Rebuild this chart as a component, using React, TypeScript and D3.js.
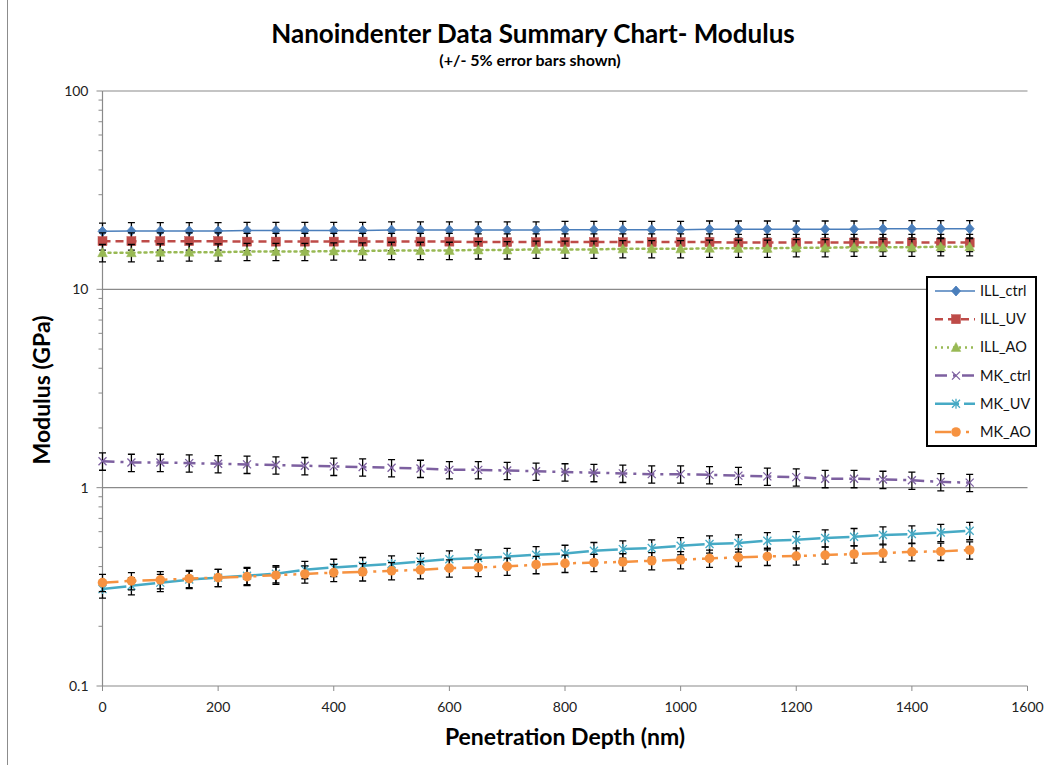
import React from "react";
import * as d3 from "d3";

const depth = [0, 50, 100, 150, 200, 250, 300, 350, 400, 450, 500, 550, 600, 650, 700, 750, 800, 850, 900, 950, 1000, 1050, 1100, 1150, 1200, 1250, 1300, 1350, 1400, 1450, 1500];

const illCtrl = [19.6, 19.7, 19.7, 19.7, 19.7, 19.8, 19.8, 19.8, 19.8, 19.8, 19.9, 19.9, 19.9, 19.9, 19.9, 19.9, 20.0, 20.0, 20.0, 20.0, 20.0, 20.1, 20.1, 20.1, 20.1, 20.1, 20.1, 20.2, 20.2, 20.2, 20.2];
const illUV = [17.5, 17.5, 17.5, 17.5, 17.5, 17.4, 17.4, 17.4, 17.4, 17.4, 17.4, 17.4, 17.4, 17.3, 17.3, 17.3, 17.3, 17.3, 17.3, 17.3, 17.3, 17.3, 17.2, 17.2, 17.2, 17.2, 17.2, 17.2, 17.2, 17.2, 17.2];
const illAO = [15.3, 15.3, 15.4, 15.4, 15.4, 15.5, 15.5, 15.5, 15.6, 15.6, 15.7, 15.7, 15.7, 15.8, 15.8, 15.9, 15.9, 15.9, 16.0, 16.0, 16.0, 16.1, 16.1, 16.1, 16.2, 16.2, 16.3, 16.3, 16.3, 16.4, 16.4];
const mkCtrl = [1.36, 1.34, 1.34, 1.33, 1.32, 1.31, 1.3, 1.29, 1.28, 1.27, 1.26, 1.25, 1.23, 1.23, 1.22, 1.21, 1.2, 1.19, 1.18, 1.17, 1.17, 1.16, 1.15, 1.14, 1.13, 1.11, 1.11, 1.1, 1.09, 1.07, 1.06];
const mkUV = [0.308, 0.32, 0.332, 0.344, 0.352, 0.36, 0.368, 0.386, 0.396, 0.404, 0.412, 0.424, 0.436, 0.442, 0.449, 0.459, 0.466, 0.481, 0.49, 0.496, 0.509, 0.52, 0.526, 0.54, 0.546, 0.557, 0.566, 0.577, 0.584, 0.594, 0.607];
const mkAO = [0.332, 0.339, 0.343, 0.348, 0.352, 0.356, 0.362, 0.367, 0.373, 0.376, 0.381, 0.385, 0.393, 0.396, 0.401, 0.409, 0.415, 0.419, 0.422, 0.428, 0.433, 0.44, 0.445, 0.45, 0.452, 0.457, 0.463, 0.468, 0.475, 0.477, 0.485];

const seriesNames = ["ILL_ctrl", "ILL_UV", "ILL_AO", "MK_ctrl", "MK_UV", "MK_AO"];
const seriesValues = [illCtrl, illUV, illAO, mkCtrl, mkUV, mkAO];
const seriesColors = ["#4A7EBB", "#BE4B48", "#98B954", "#7D60A0", "#46AAC5", "#F69240"];
const seriesDash = ["", "8,5", "2,4", "12,6,3,6", "24,5", "16,6,3,6,3,6"];
const seriesWidth = [1.5, 2.5, 2.5, 2.5, 2.5, 2.5];
const seriesMarker = ["diamond", "square", "triangle", "x", "star", "circle"];

const xTicks = [0, 200, 400, 600, 800, 1000, 1200, 1400, 1600];
const yTicks = [0.1, 1, 10, 100];
const errorFraction = 0.1;

const FONT = "Lato, 'Open Sans', sans-serif";

function Marker({ type, x, y, color }: { type: string; x: number; y: number; color: string }) {
  const s = 4.5;
  if (type === "diamond")
    return <path d={`M${x},${y - s - 0.5}L${x + s},${y}L${x},${y + s + 0.5}L${x - s},${y}Z`} fill={color} stroke={color} strokeWidth={0.8} />;
  if (type === "square") return <rect x={x - 4.5} y={y - 4.5} width={9} height={9} fill={color} stroke={color} strokeWidth={0.5} />;
  if (type === "triangle")
    return <path d={`M${x},${y - 5}L${x + 4.8},${y + 4}L${x - 4.8},${y + 4}Z`} fill={color} stroke={color} strokeWidth={0.5} />;
  if (type === "x")
    return (
      <path d={`M${x - 4},${y - 4}L${x + 4},${y + 4}M${x - 4},${y + 4}L${x + 4},${y - 4}`} stroke={color} strokeWidth={1.3} fill="none" />
    );
  if (type === "star")
    return (
      <path
        d={`M${x - 4},${y - 4}L${x + 4},${y + 4}M${x - 4},${y + 4}L${x + 4},${y - 4}M${x},${y - 5}L${x},${y + 5}`}
        stroke={color}
        strokeWidth={1.3}
        fill="none"
      />
    );
  return <circle cx={x} cy={y} r={4.8} fill={color} />;
}

export default function App() {
  const W = 1049;
  const H = 765;
  const left = 102.5;
  const right = 1027.5;
  const top = 91;
  const bottom = 686;

  const x = d3.scaleLinear().domain([0, 1600]).range([left, right]);
  const y = d3.scaleLog().domain([0.1, 100]).range([bottom, top]);

  const minor: number[] = [];
  [0.1, 1, 10].forEach((d) => {
    for (let k = 2; k <= 9; k++) minor.push(d * k);
  });

  const line = d3
    .line<number>()
    .x((_, i) => x(depth[i]))
    .y((v) => y(v));

  const legX = 927;
  const legY = 277;
  const legW = 109;
  const legH = 169;

  return (
    <svg width={W} height={H} style={{ position: "absolute", left: 0, top: 0, background: "#fff" }} fontFamily={FONT}>
      <rect x={0} y={0} width={W} height={H} fill="#fff" />
      <line x1={7.5} x2={7.5} y1={0} y2={H} stroke="#8c8c8c" strokeWidth={1} />

      <text x={533} y={43} textAnchor="middle" fontSize={26} fontWeight="bold" fill="#000">
        Nanoindenter Data Summary Chart- Modulus
      </text>
      <text x={530} y={66} textAnchor="middle" fontSize={16} fontWeight="bold" fill="#000">
        (+/- 5% error bars shown)
      </text>

      {/* gridlines */}
      {yTicks
        .filter((t) => t > 0.1)
        .map((t) => (
          <line key={t} x1={left} x2={right} y1={y(t)} y2={y(t)} stroke="#8a8a8a" strokeWidth={1.2} />
        ))}

      {/* y axis */}
      <line x1={left} x2={left} y1={top} y2={bottom} stroke="#8a8a8a" strokeWidth={1.2} />
      {yTicks.map((t) => (
        <g key={t}>
          <line x1={left - 6} x2={left} y1={y(t)} y2={y(t)} stroke="#8a8a8a" strokeWidth={1} />
          <text x={left - 14} y={y(t)} dy="0.35em" textAnchor="end" fontSize={14} fill="#222">
            {String(t)}
          </text>
        </g>
      ))}
      {minor.map((t) => (
        <line key={t} x1={left - 4} x2={left} y1={y(t)} y2={y(t)} stroke="#8a8a8a" strokeWidth={1} />
      ))}

      {/* x axis */}
      <line x1={left} x2={right} y1={bottom} y2={bottom} stroke="#8a8a8a" strokeWidth={1.2} />
      {xTicks.map((t) => (
        <g key={t}>
          <line x1={x(t)} x2={x(t)} y1={bottom} y2={bottom + 5} stroke="#8a8a8a" strokeWidth={1} />
          <text x={x(t)} y={bottom + 21} dy="0.35em" textAnchor="middle" fontSize={14} fill="#222">
            {t}
          </text>
        </g>
      ))}

      <text x={565} y={745} textAnchor="middle" fontSize={23} fontWeight="bold" fill="#000">
        Penetration Depth (nm)
      </text>
      <text transform={`translate(50,${390}) rotate(-90)`} textAnchor="middle" fontSize={23} fontWeight="bold" fill="#000">
        Modulus (GPa)
      </text>

      {/* series */}
      {seriesValues.map((vals, si) => (
        <g key={seriesNames[si]}>
          <path
            d={line(vals) || ""}
            fill="none"
            stroke={seriesColors[si]}
            strokeWidth={seriesWidth[si]}
            strokeDasharray={seriesDash[si] || undefined}
            strokeLinecap={si === 2 ? "round" : "butt"}
          />
          {vals.map((v, i) => {
            const cx = x(depth[i]);
            const yHi = y(v * (1 + errorFraction));
            const yLo = y(v * (1 - errorFraction));
            return (
              <path
                key={i}
                d={`M${cx},${yHi}L${cx},${yLo}M${cx - 3.5},${yHi}L${cx + 3.5},${yHi}M${cx - 3.5},${yLo}L${cx + 3.5},${yLo}`}
                stroke="#000"
                strokeWidth={1.3}
                fill="none"
              />
            );
          })}
          {vals.map((v, i) => (
            <Marker key={i} type={seriesMarker[si]} x={x(depth[i])} y={y(v)} color={seriesColors[si]} />
          ))}
        </g>
      ))}

      {/* legend */}
      <rect x={legX} y={legY} width={legW} height={legH} fill="#fff" stroke="#000" strokeWidth={2} />
      {seriesNames.map((n, i) => {
        const ly = legY + 14 + i * 28.2;
        return (
          <g key={n}>
            <line
              x1={legX + 8}
              x2={legX + 48}
              y1={ly}
              y2={ly}
              stroke={seriesColors[i]}
              strokeWidth={seriesWidth[i]}
              strokeDasharray={seriesDash[i] || undefined}
            />
            <Marker type={seriesMarker[i]} x={legX + 29} y={ly} color={seriesColors[i]} />
            <text x={legX + 53} y={ly} dy="0.35em" fontSize={14.5} fill="#111">
              {n}
            </text>
          </g>
        );
      })}
    </svg>
  );
}
